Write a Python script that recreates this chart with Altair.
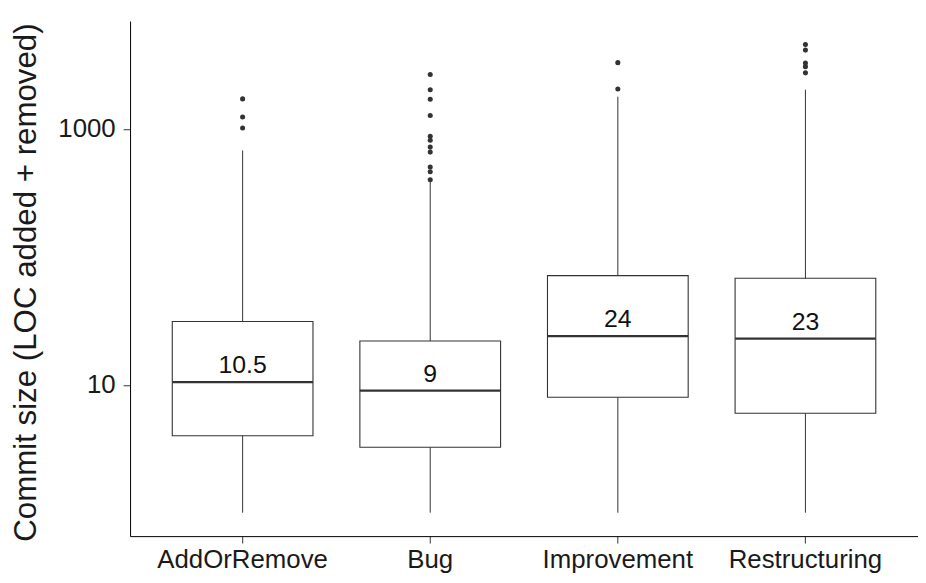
import altair as alt
import pandas as pd

# ---- data ----
categories = ["AddOrRemove", "Bug", "Improvement", "Restructuring"]
whisker_low = [1, 1, 1, 1]
q1 = [4.0, 3.25, 8.0, 6.0]
median = [10.5, 9, 24, 23]
q3 = [31.3, 22.0, 71.4, 68.2]
whisker_high = [680, 385, 1790, 2030]
median_labels = ["10.5", "9", "24", "23"]

outliers_addorremove = [1020, 1240, 1720]
outliers_bug = [401, 464, 505, 660, 722, 818, 877, 1276, 1707, 2028, 2667]
outliers_improvement = [2056, 3304]
outliers_restructuring = [2748, 3074, 3281, 4140, 4585]

y_ticks = [10, 1000]
y_domain = [0.656, 6982]

# ---- tables ----
stats = pd.DataFrame({
    "category": categories,
    "lo": whisker_low,
    "q1": q1,
    "median": median,
    "q3": q3,
    "hi": whisker_high,
    "label": median_labels,
})

out_rows = []
for cat, vals in zip(categories, [outliers_addorremove, outliers_bug,
                                  outliers_improvement, outliers_restructuring]):
    for v in vals:
        out_rows.append({"category": cat, "value": v})
outliers = pd.DataFrame(out_rows)

FONT = "Liberation Sans"
DARK = "#333333"
TITLE = "Commit size (LOC added + removed)"

xscale = alt.Scale(domain=categories, paddingInner=0.25, paddingOuter=0.225)
yscale = alt.Scale(type="log", domain=y_domain, nice=False, zero=False)

xaxis = alt.Axis(title=None, labelAngle=0, labelFontSize=26, labelColor="#1a1a1a",
                 labelFont=FONT, tickSize=7, tickColor=DARK, domainColor="#000000",
                 labelPadding=4)
yaxis = alt.Axis(title=TITLE, values=y_ticks, format="d", labelFontSize=26,
                 labelColor="#1a1a1a", labelFont=FONT, tickSize=7, tickColor=DARK,
                 domainColor="#000000", labelPadding=8, titleFontSize=31.5,
                 titleFont=FONT, titleFontWeight="normal", titleColor="#1a1a1a",
                 titleAngle=-90, titleX=-95, titleY=263, titleAlign="center",
                 titleBaseline="alphabetic", grid=False)

X = alt.X("category:N", scale=xscale, axis=xaxis, sort=categories)

whiskers = alt.Chart(stats).mark_rule(color=DARK, strokeWidth=1).encode(
    x=X,
    y=alt.Y("lo:Q", scale=yscale, axis=yaxis),
    y2="hi:Q",
)

boxes = alt.Chart(stats).mark_bar(fill="white", stroke=DARK, strokeWidth=1.1).encode(
    x=X,
    y=alt.Y("q1:Q", scale=yscale, axis=yaxis),
    y2="q3:Q",
)

medians = alt.Chart(stats).mark_tick(color=DARK, thickness=2.2, size=141.8, opacity=1).encode(
    x=X,
    y=alt.Y("median:Q", scale=yscale, axis=yaxis),
)

labels = alt.Chart(stats).mark_text(fontSize=25, font=FONT, color="#111111",
                                    baseline="alphabetic", dy=-9).encode(
    x=X,
    y=alt.Y("median:Q", scale=yscale, axis=yaxis),
    text="label:N",
)

points = alt.Chart(outliers).mark_circle(color=DARK, size=26, opacity=1).encode(
    x=X,
    y=alt.Y("value:Q", scale=yscale, axis=yaxis),
)

chart = alt.layer(whiskers, boxes, medians, labels, points).properties(
    width=794,
    height=519,
    autosize=alt.AutoSizeParams(type="none"),
    padding={"left": 123, "top": 11, "right": 0, "bottom": 37},
).configure_view(stroke=None).configure_axis(grid=False)

chart.save("out.html", embed_options={"renderer": "svg", "actions": False})
